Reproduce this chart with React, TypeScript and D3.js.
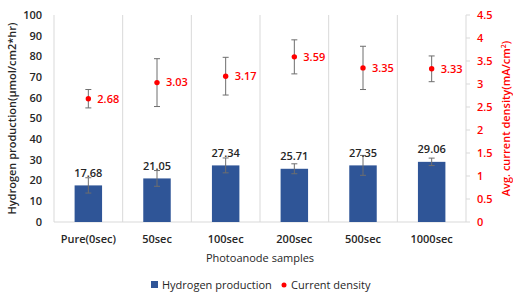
import React from "react";
import * as d3 from "d3";

const samples = ["Pure(0sec)", "50sec", "100sec", "200sec", "500sec", "1000sec"];
const hydrogen = [17.68, 21.05, 27.34, 25.71, 27.35, 29.06];
const hydrogenErr = [3.7, 3.8, 3.6, 2.4, 4.8, 1.8];
const current = [2.68, 3.03, 3.17, 3.59, 3.35, 3.33];
const currentErr = [0.2, 0.52, 0.41, 0.37, 0.47, 0.28];
const leftTicks = [0, 10, 20, 30, 40, 50, 60, 70, 80, 90, 100];
const rightTicks = [0, 0.5, 1, 1.5, 2, 2.5, 3, 3.5, 4, 4.5];

const W = 513;
const H = 293;
const margin = { top: 15, right: 47, bottom: 71, left: 54 };
const font = "'Open Sans', 'Noto Sans', sans-serif";
const blue = "#2F5597";
const red = "#FF0000";
const grid = "#D9D9D9";
const errColor = "#6E6E6E";

export default function App() {
  const x = d3
    .scaleBand()
    .domain(samples)
    .range([margin.left, W - margin.right]);
  const yL = d3.scaleLinear().domain([0, 100]).range([H - margin.bottom, margin.top]);
  const yR = d3.scaleLinear().domain([0, 4.5]).range([H - margin.bottom, margin.top]);
  const bw = x.bandwidth() * 0.4;
  const cx = (s: string) => (x(s) as number) + x.bandwidth() / 2;
  const bottom = H - margin.bottom;
  const right = W - margin.right;

  return (
    <svg
      width={W}
      height={H}
      style={{ position: "absolute", left: 0, top: 0, background: "#fff" }}
      fontFamily={font}
    >
      {/* vertical gridlines between categories */}
      {samples.map((s) => (
        <line
          key={"g" + s}
          x1={x(s) as number}
          x2={x(s) as number}
          y1={margin.top}
          y2={bottom}
          stroke={grid}
          strokeWidth={1}
        />
      ))}
      <line x1={margin.left} x2={right} y1={bottom} y2={bottom} stroke={grid} />
      <line x1={right} x2={right} y1={margin.top} y2={bottom} stroke={grid} />
      {rightTicks.map((t) => (
        <line key={"rt" + t} x1={right} x2={right + 4} y1={yR(t)} y2={yR(t)} stroke={grid} />
      ))}

      {/* left ticks */}
      {leftTicks.map((t) => (
        <text
          key={"lt" + t}
          x={42}
          y={yL(t)}
          dy="0.35em"
          textAnchor="end"
          fontSize={11}
          fontWeight={600}
          fill="#262626"
        >
          {t}
        </text>
      ))}
      {/* right ticks */}
      {rightTicks.map((t) => (
        <text
          key={"rl" + t}
          x={477}
          y={yR(t)}
          dy="0.35em"
          fontSize={11}
          fontWeight={600}
          fill={red}
        >
          {t}
        </text>
      ))}

      {/* bars */}
      {samples.map((s, i) => (
        <g key={"b" + s}>
          <rect
            x={cx(s) - bw / 2}
            y={yL(hydrogen[i])}
            width={bw}
            height={bottom - yL(hydrogen[i])}
            fill={blue}
          />
          <line
            x1={cx(s)}
            x2={cx(s)}
            y1={yL(hydrogen[i] + hydrogenErr[i])}
            y2={yL(hydrogen[i] - hydrogenErr[i])}
            stroke={errColor}
          />
          {[hydrogen[i] + hydrogenErr[i], hydrogen[i] - hydrogenErr[i]].map((v, k) => (
            <line
              key={k}
              x1={cx(s) - 3}
              x2={cx(s) + 3}
              y1={yL(v)}
              y2={yL(v)}
              stroke={errColor}
            />
          ))}
          <text
            x={cx(s)}
            y={yL(hydrogen[i]) - 12.5}
            dy="0.35em"
            textAnchor="middle"
            fontSize={11}
            fontWeight={600}
            fill="#262626"
          >
            {hydrogen[i].toFixed(2)}
          </text>
        </g>
      ))}

      {/* current density points */}
      {samples.map((s, i) => (
        <g key={"p" + s}>
          <line
            x1={cx(s)}
            x2={cx(s)}
            y1={yR(current[i] + currentErr[i])}
            y2={yR(current[i] - currentErr[i])}
            stroke={errColor}
          />
          {[current[i] + currentErr[i], current[i] - currentErr[i]].map((v, k) => (
            <line
              key={k}
              x1={cx(s) - 3}
              x2={cx(s) + 3}
              y1={yR(v)}
              y2={yR(v)}
              stroke={errColor}
            />
          ))}
          <circle cx={cx(s)} cy={yR(current[i])} r={2.7} fill={red} />
          <text
            x={cx(s) + 9}
            y={yR(current[i])}
            dy="0.35em"
            fontSize={11}
            fontWeight={600}
            fill={red}
          >
            {current[i].toFixed(2)}
          </text>
        </g>
      ))}

      {/* x labels */}
      {samples.map((s) => (
        <text
          key={"xl" + s}
          x={cx(s)}
          y={239}
          dy="0.35em"
          textAnchor="middle"
          fontSize={11}
          fontWeight={600}
          fill="#262626"
        >
          {s}
        </text>
      ))}
      <text x={260} y={258} dy="0.35em" textAnchor="middle" fontSize={11} fill="#262626">
        Photoanode samples
      </text>

      {/* axis titles */}
      <text
        transform={`translate(12,${(margin.top + bottom) / 2}) rotate(-90)`}
        dy="0.35em"
        textAnchor="middle"
        fontSize={11}
        fontWeight={600}
        fill="#262626"
      >
        Hydrogen production(μmol/cm2*hr)
      </text>
      <text
        transform={`translate(506,${(margin.top + bottom) / 2}) rotate(-90)`}
        dy="0.35em"
        textAnchor="middle"
        fontSize={11}
        fontWeight={600}
        fill={red}
      >
        Avg. current density(mA/cm
        <tspan dy="-4" fontSize={7}>2</tspan>
        <tspan dy="4">)</tspan>
      </text>

      {/* legend */}
      <rect x={151} y={281} width={7} height={7} fill={blue} />
      <text x={162} y={285} dy="0.35em" fontSize={11} fill="#262626">
        Hydrogen production
      </text>
      <circle cx={284} cy={285} r={2.5} fill={red} />
      <text x={291} y={285} dy="0.35em" fontSize={11} fill="#262626">
        Current density
      </text>
    </svg>
  );
}
